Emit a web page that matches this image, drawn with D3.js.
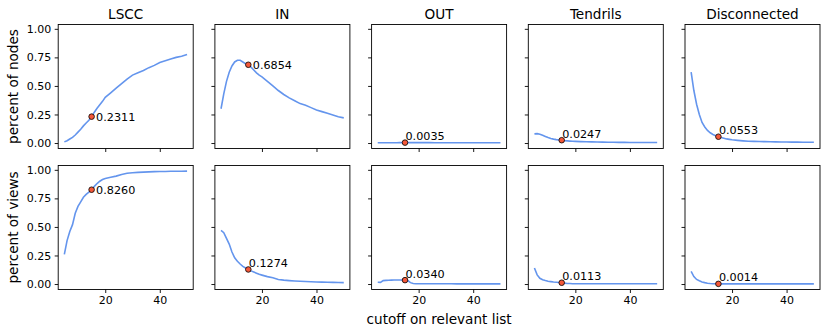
<!DOCTYPE html>
<html lang="en">
<head>
  <meta charset="UTF-8" />
  <title>Bow-tie components vs cutoff</title>
  <script src="https://d3js.org/d3.v7.min.js"></script>
  <style>
    body { margin: 0; background: #fff; }
    svg text { font-family: "DejaVu Sans", sans-serif; fill: #000; }
  </style>
</head>
<body>
  <svg id="chart" width="831" height="335"></svg>

  <script>
    // data
    const cutoffs = [5, 6, 7, 8, 9, 10, 11, 12, 13, 14, 15, 16, 17, 18, 19, 20,
      22, 24, 26, 28, 30, 32, 34, 36, 38, 40, 42, 44, 46, 48, 50];
    const components = ["LSCC", "IN", "OUT", "Tendrils", "Disconnected"];
    const rowLabels = ["percent of nodes", "percent of views"];

    const nodesLSCC = [0.01, 0.02, 0.035, 0.05, 0.07, 0.095, 0.12, 0.15, 0.175, 0.2, 0.2311, 0.27, 0.305, 0.335, 0.365, 0.40,
      0.44, 0.48, 0.52, 0.56, 0.595, 0.615, 0.635, 0.66, 0.68, 0.705, 0.72, 0.735, 0.75, 0.76, 0.775];
    const nodesIN = [0.30, 0.43, 0.54, 0.62, 0.675, 0.71, 0.725, 0.725, 0.71, 0.695, 0.6854, 0.665, 0.64, 0.615, 0.595, 0.58,
      0.54, 0.50, 0.46, 0.425, 0.395, 0.37, 0.345, 0.33, 0.31, 0.29, 0.275, 0.26, 0.245, 0.23, 0.22];
    const nodesOUT = [0.002, 0.002, 0.003, 0.003, 0.003, 0.003, 0.003, 0.003, 0.0035, 0.0035, 0.0035, 0.0035, 0.0035, 0.0035, 0.0035, 0.0035,
      0.0035, 0.0035, 0.003, 0.003, 0.003, 0.003, 0.003, 0.003, 0.003, 0.003, 0.003, 0.003, 0.003, 0.003, 0.003];
    const nodesTendrils = [0.08, 0.082, 0.077, 0.068, 0.058, 0.048, 0.04, 0.034, 0.03, 0.027, 0.0247, 0.021, 0.019, 0.017, 0.015, 0.014,
      0.012, 0.011, 0.01, 0.009, 0.008, 0.007, 0.007, 0.006, 0.006, 0.005, 0.005, 0.005, 0.004, 0.004, 0.004];
    const nodesDisconnected = [0.62, 0.46, 0.34, 0.25, 0.18, 0.14, 0.11, 0.09, 0.075, 0.064, 0.0553, 0.048, 0.042, 0.036, 0.032, 0.028,
      0.023, 0.019, 0.016, 0.014, 0.013, 0.012, 0.011, 0.01, 0.009, 0.009, 0.008, 0.008, 0.007, 0.007, 0.007];

    const viewsLSCC = [0.26, 0.38, 0.46, 0.52, 0.62, 0.68, 0.72, 0.76, 0.785, 0.805, 0.826, 0.855, 0.88, 0.90, 0.915, 0.925,
      0.935, 0.945, 0.96, 0.97, 0.975, 0.978, 0.98, 0.982, 0.984, 0.985, 0.986, 0.987, 0.988, 0.988, 0.989];
    const viewsIN = [0.47, 0.45, 0.40, 0.35, 0.28, 0.23, 0.20, 0.175, 0.155, 0.14, 0.1274, 0.115, 0.105, 0.095, 0.085, 0.078,
      0.065, 0.055, 0.04, 0.034, 0.03, 0.027, 0.024, 0.022, 0.02, 0.018, 0.017, 0.016, 0.014, 0.013, 0.012];
    const viewsOUT = [0.015, 0.014, 0.03, 0.032, 0.033, 0.034, 0.035, 0.035, 0.035, 0.035, 0.034, 0.03, 0.012, 0.004, 0.002, 0.002,
      0.002, 0.002, 0.002, 0.002, 0.002, 0.002, 0.001, 0.001, 0.001, 0.001, 0.001, 0.001, 0.001, 0.001, 0.001];
    const viewsTendrils = [0.14, 0.08, 0.05, 0.037, 0.03, 0.025, 0.021, 0.017, 0.015, 0.013, 0.0113, 0.008, 0.005, 0.004, 0.003, 0.003,
      0.002, 0.002, 0.002, 0.002, 0.002, 0.002, 0.002, 0.002, 0.002, 0.002, 0.002, 0.002, 0.002, 0.002, 0.002];
    const viewsDisconnected = [0.11, 0.065, 0.04, 0.028, 0.018, 0.012, 0.007, 0.004, 0.003, 0.002, 0.0014, 0.001, 0.001, 0.001, 0.001, 0.001,
      0.001, 0.001, 0.001, 0.001, 0.001, 0.001, 0.001, 0.001, 0.001, 0.001, 0.001, 0.001, 0.001, 0.001, 0.001];

    const highlightCutoff = 15;
    const yTicks = [0, 0.25, 0.5, 0.75, 1];
    const xTicks = [20, 40];

    const rows = [
      [nodesLSCC, nodesIN, nodesOUT, nodesTendrils, nodesDisconnected],
      [viewsLSCC, viewsIN, viewsOUT, viewsTendrils, viewsDisconnected]
    ];

    // layout
    const panelW = 135, panelH = 124;
    const panelLeft = [58.2, 214.9, 371.6, 528.3, 685];
    const panelTop = [24.5, 165.5];

    const svg = d3.select("#chart");
    svg.append("rect").attr("width", 831).attr("height", 335).attr("fill", "#fff");

    const x = d3.scaleLinear().domain([2.75, 52.25]).range([0, panelW]);
    const y = d3.scaleLinear().domain([-0.048, 1.038]).range([panelH, 0]);

    const line = d3.line()
      .x((d) => x(d[0]))
      .y((d) => y(d[1]));

    rows.forEach((series, r) => {
      series.forEach((values, c) => {
        const g = svg.append("g")
          .attr("transform", `translate(${panelLeft[c]},${panelTop[r]})`);

        // axes
        const xAxis = d3.axisBottom(x).tickValues(xTicks).tickSize(3.5).tickPadding(3.5)
          .tickFormat(r === 1 ? d3.format("d") : () => "");
        const yAxis = d3.axisLeft(y).tickValues(yTicks).tickSize(3.5).tickPadding(3.5)
          .tickFormat(c === 0 ? d3.format(".2f") : () => "");

        const xa = g.append("g").attr("transform", `translate(0,${panelH})`).call(xAxis);
        const ya = g.append("g").call(yAxis);
        [xa, ya].forEach((a) => {
          a.select(".domain").remove();
          a.selectAll("line").attr("stroke", "#000").attr("stroke-width", 0.9);
          a.selectAll("text").style("font-size", "11px").attr("fill", "#000");
        });

        // curve
        const pts = cutoffs.map((k, i) => [k, values[i]]);
        g.append("path")
          .datum(pts)
          .attr("fill", "none")
          .attr("stroke", "#6495ED")
          .attr("stroke-width", 1.6)
          .attr("d", line);

        // highlighted cutoff
        const v = values[cutoffs.indexOf(highlightCutoff)];
        const px = x(highlightCutoff), py = y(v);
        g.append("circle")
          .attr("cx", px).attr("cy", py).attr("r", 2.8)
          .attr("fill", "#f4583a")
          .attr("stroke", "#000")
          .attr("stroke-width", 0.8);

        const big = v > 0.2;
        g.append("text")
          .attr("x", big ? px + 4.5 : px + 0.5)
          .attr("y", big ? py : py - 2.5)
          .attr("dy", big ? "0.36em" : 0)
          .style("font-size", "11.2px")
          .text(v.toFixed(4));

        // frame
        g.append("rect")
          .attr("width", panelW).attr("height", panelH)
          .attr("fill", "none")
          .attr("stroke", "#000")
          .attr("stroke-width", 0.9);

        if (r === 0) {
          g.append("text")
            .attr("x", panelW / 2).attr("y", -6)
            .attr("text-anchor", "middle")
            .style("font-size", "13.6px")
            .text(components[c]);
        }
      });

      svg.append("text")
        .attr("transform", `translate(18,${panelTop[r] + panelH / 2}) rotate(-90)`)
        .attr("text-anchor", "middle")
        .style("font-size", "13.6px")
        .text(rowLabels[r]);
    });

    svg.append("text")
      .attr("x", panelLeft[2] + panelW / 2).attr("y", 323.5)
      .attr("text-anchor", "middle")
      .style("font-size", "13.6px")
      .text("cutoff on relevant list");
  </script>
</body>
</html>
